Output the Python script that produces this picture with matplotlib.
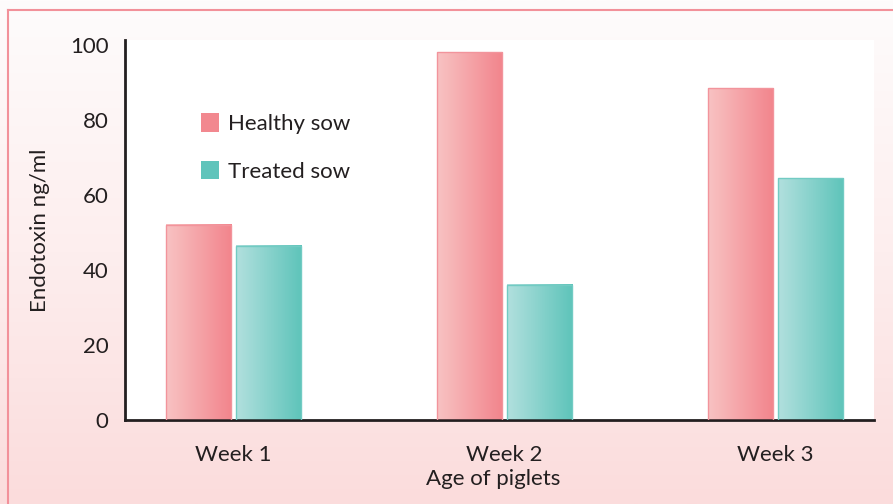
import numpy as np
import matplotlib
matplotlib.use('Agg')
import matplotlib.pyplot as plt
from matplotlib.colors import LinearSegmentedColormap
from matplotlib.patches import Patch
from matplotlib.transforms import blended_transform_factory

plt.rcParams['font.family'] = ['Lato', 'DejaVu Sans']

#data
weeks = ['Week 1', 'Week 2', 'Week 3']
healthy = [52, 98, 88.5]
treated = [46.5, 36, 64.5]
series = ['Healthy sow', 'Treated sow']

pink_cmap = LinearSegmentedColormap.from_list('pink', ['#f8c3c3', '#f2848c'])
teal_cmap = LinearSegmentedColormap.from_list('teal', ['#b2e0de', '#5ec4ba'])
txt = '#231f20'

fig = plt.figure(figsize=(8.93, 5.04), dpi=100)

#background: white at top fading to pale pink, with pink frame line top/left
bg = fig.add_axes([0, 0, 1, 1], zorder=0)
grad = np.linspace(0, 1, 256).reshape(-1, 1)
bg_cmap = LinearSegmentedColormap.from_list('bg', ['#fefcfc', '#fdeeee', '#fbdcdc'])
bg.imshow(grad, cmap=bg_cmap, aspect='auto', extent=[0, 1, 0, 1], origin='upper')
bg.plot([0.009, 0.009], [0, 0.981], color='#f2919a', lw=1.5)
bg.plot([0.009, 1], [0.981, 0.981], color='#f2919a', lw=1.5)
bg.set_xlim(0, 1)
bg.set_ylim(0, 1)
bg.axis('off')

ax = fig.add_axes([0.140, 0.1667, 0.839, 0.754], zorder=1)
ax.set_facecolor('white')

x = np.arange(len(weeks))
w = 0.24
off = 0.13
hb = ax.bar(x - off, healthy, w, facecolor='none', edgecolor='#f2949c', linewidth=1.0, zorder=3)
tb = ax.bar(x + off, treated, w, facecolor='none', edgecolor='#72cbc3', linewidth=1.0, zorder=3)

#horizontal gradient fill inside each bar
hgrad = np.linspace(0, 1, 256).reshape(1, -1)
for bars, cm in [(hb, pink_cmap), (tb, teal_cmap)]:
    for b in bars:
        x0 = b.get_x()
        ax.imshow(hgrad, cmap=cm, aspect='auto', zorder=2,
                  extent=[x0, x0 + b.get_width(), 0, b.get_height()])

ax.set_xlim(-0.40, 2.365)
ax.set_ylim(0, 101.3)
ax.set_yticks([0, 20, 40, 60, 80, 100])
ax.set_xticks(x)
ax.set_xticklabels(weeks)
ax.tick_params(length=0, labelsize=16, colors=txt, pad=12)
ax.tick_params(axis='x', pad=18)
for s in ['top', 'right']:
    ax.spines[s].set_visible(False)
for s in ['left', 'bottom']:
    ax.spines[s].set_linewidth(2)
    ax.spines[s].set_color(txt)

ax.set_ylabel('Endotoxin ng/ml', fontsize=16, color=txt, labelpad=14)
trans = blended_transform_factory(ax.transData, ax.transAxes)
ax.text(0.96, -0.155, 'Age of piglets', transform=trans, ha='center', va='center',
        fontsize=16, color=txt)

handles = [Patch(facecolor='#f2888f', edgecolor='none'),
           Patch(facecolor='#5fc4bb', edgecolor='none')]
ax.legend(handles, series, loc='upper left', bbox_to_anchor=(0.075, 0.86),
          frameon=False, fontsize=16, handlelength=0.8, handleheight=0.9,
          labelspacing=1.2, handletextpad=0.4, labelcolor=txt)

fig.savefig('out.png', dpi=100)
